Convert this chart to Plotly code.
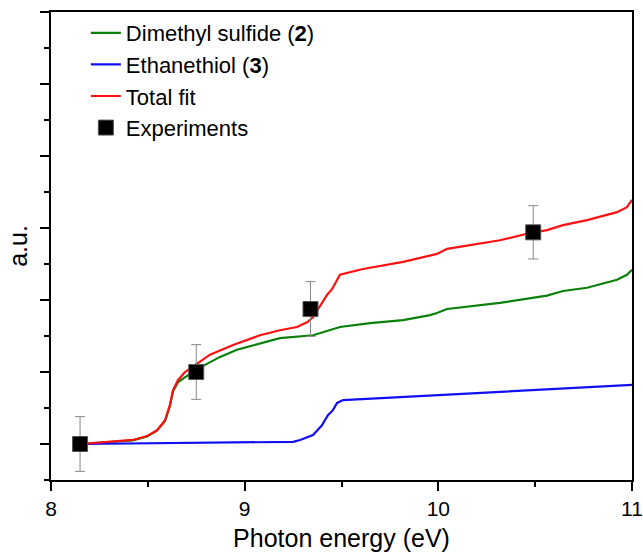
import plotly.graph_objects as go

# Experimental points
exp_x = [8.15, 8.75, 9.34, 10.49]
exp_y = [0.0, 1.0, 1.875, 2.94]
exp_err = [0.38, 0.38, 0.38, 0.37]

# Total fit (red)
fit_x = [8.15, 8.356, 8.423, 8.496, 8.547, 8.589, 8.614, 8.630, 8.656, 8.692, 8.744,
         8.821, 8.940, 9.079, 9.182, 9.270, 9.322, 9.353, 9.425, 9.451, 9.492, 9.611,
         9.818, 9.957, 9.993, 10.045, 10.318, 10.458, 10.561, 10.644, 10.768, 10.923,
         10.974, 11.0]
fit_y = [0.0, 0.04, 0.056, 0.11, 0.19, 0.33, 0.54, 0.75, 0.89, 1.0, 1.10,
         1.24, 1.375, 1.51, 1.58, 1.625, 1.69, 1.76, 2.07, 2.15, 2.35, 2.43,
         2.53, 2.625, 2.64, 2.71, 2.83, 2.92, 2.97, 3.04, 3.11, 3.22,
         3.29, 3.39]

# Dimethyl sulfide (green)
dms_x = [8.15, 8.356, 8.423, 8.496, 8.547, 8.589, 8.614, 8.630, 8.656, 8.754, 8.873,
         8.960, 9.079, 9.182, 9.353, 9.492, 9.647, 9.818, 9.957, 9.993, 10.045, 10.318,
         10.561, 10.644, 10.768, 10.923, 10.974, 11.0]
dms_y = [0.0, 0.035, 0.05, 0.105, 0.185, 0.32, 0.53, 0.73, 0.86, 1.04, 1.21,
         1.31, 1.40, 1.47, 1.51, 1.625, 1.68, 1.72, 1.79, 1.82, 1.875, 1.96,
         2.06, 2.125, 2.17, 2.28, 2.35, 2.42]

# Ethanethiol (blue)
eth_x = [8.15, 9.25, 9.286, 9.353, 9.399, 9.430, 9.456, 9.477, 9.508, 10.06, 11.0]
eth_y = [0.0, 0.03, 0.056, 0.125, 0.26, 0.40, 0.47, 0.57, 0.61, 0.69, 0.82]

FONT = "Arial, Liberation Sans, sans-serif"

fig = go.Figure()
fig.add_trace(go.Scatter(x=dms_x, y=dms_y, mode="lines", name="Dimethyl sulfide (<b>2</b>)",
                         line=dict(color="#0a800a", width=2.2)))
fig.add_trace(go.Scatter(x=eth_x, y=eth_y, mode="lines", name="Ethanethiol (<b>3</b>)",
                         line=dict(color="#1010f0", width=2.2)))
fig.add_trace(go.Scatter(x=fit_x, y=fit_y, mode="lines", name="Total fit",
                         line=dict(color="#ff1010", width=2.2)))
fig.add_trace(go.Scatter(x=exp_x, y=exp_y, mode="markers", name="Experiments",
                         marker=dict(symbol="square", size=15, color="black",
                                     line=dict(color="#555555", width=1)),
                         error_y=dict(type="data", array=exp_err, color="#888888",
                                      thickness=1, width=5)))

fig.update_layout(
    width=643, height=552,
    margin=dict(l=51, r=11, t=12, b=72),
    paper_bgcolor="white", plot_bgcolor="white",
    font=dict(family=FONT, color="black", size=18),
    showlegend=True,
    legend=dict(x=0.06, y=1.0, xanchor="left", yanchor="top",
                bgcolor="rgba(0,0,0,0)", font=dict(size=22, family=FONT)),
    xaxis=dict(range=[8, 11], tick0=8, dtick=1, showline=True, linecolor="black",
               linewidth=2, mirror=True, ticks="outside", ticklen=9, tickwidth=1.5,
               tickcolor="black", showgrid=False, zeroline=False, automargin=False,
               tickfont=dict(size=21, family=FONT),
               minor=dict(dtick=0.5, ticks="outside", ticklen=5, tickwidth=1.5, tickcolor="black"),
               title=dict(text="Photon energy (eV)", font=dict(size=25, family=FONT), standoff=10)),
    yaxis=dict(range=[-0.5, 6], tick0=0, dtick=1, showline=True, linecolor="black",
               linewidth=2, mirror=True, ticks="outside", ticklen=9, tickwidth=1.5,
               tickcolor="black", showgrid=False, zeroline=False, showticklabels=False,
               automargin=False,
               minor=dict(dtick=0.5, ticks="outside", ticklen=5, tickwidth=1.5, tickcolor="black"),
               title=dict(text="a.u.", font=dict(size=25, family=FONT), standoff=5)),
)

fig.write_html("out.html")
